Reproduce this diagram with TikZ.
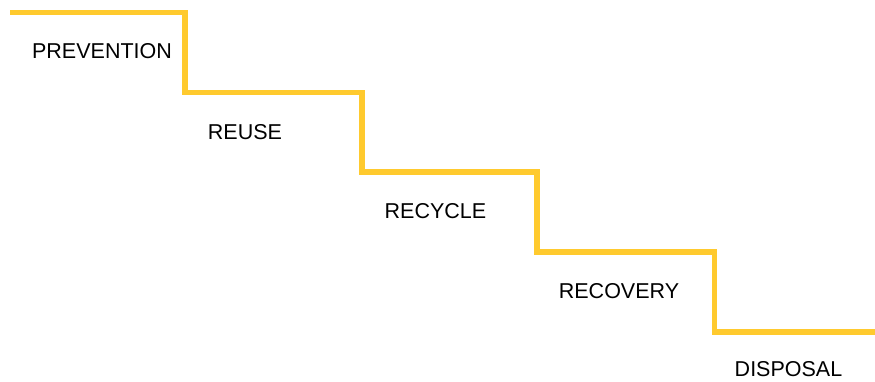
\documentclass[tikz,border=0pt]{standalone}
\usepackage{fontspec}
\setmainfont{Liberation Sans}
\definecolor{stairyellow}{HTML}{FFCA2E}
\begin{document}
\begin{tikzpicture}[x=1pt,y=-1pt,
  stair/.style={draw=stairyellow,line width=5.5pt,line cap=butt,line join=miter},
  lbl/.style={font=\fontsize{21.5}{25}\selectfont,text=black,inner sep=0pt,anchor=center}]
\useasboundingbox (0,0) rectangle (875,381);
\coordinate (s0) at (10,12.5);
\coordinate (c1) at (185,12.5);
\coordinate (c2) at (185,92.5);
\coordinate (c3) at (362,92.5);
\coordinate (c4) at (362,172);
\coordinate (c5) at (537,172);
\coordinate (c6) at (537,252);
\coordinate (c7) at (714.5,252);
\coordinate (c8) at (714.5,332);
\coordinate (e0) at (875,332);
\draw[stair] (s0) -- (c1) -- (c2) -- (c3) -- (c4) -- (c5) -- (c6) -- (c7) -- (c8) -- (e0);
\node[lbl] (prevention) at (102,51) {PREVENTION};
\node[lbl] (reuse) at (245,132) {REUSE};
\node[lbl] (recycle) at (435.5,211.5) {RECYCLE};
\node[lbl] (recovery) at (619,291.5) {RECOVERY};
\node[lbl] (disposal) at (788.5,369.5) {DISPOSAL};
\end{tikzpicture}
\end{document}
